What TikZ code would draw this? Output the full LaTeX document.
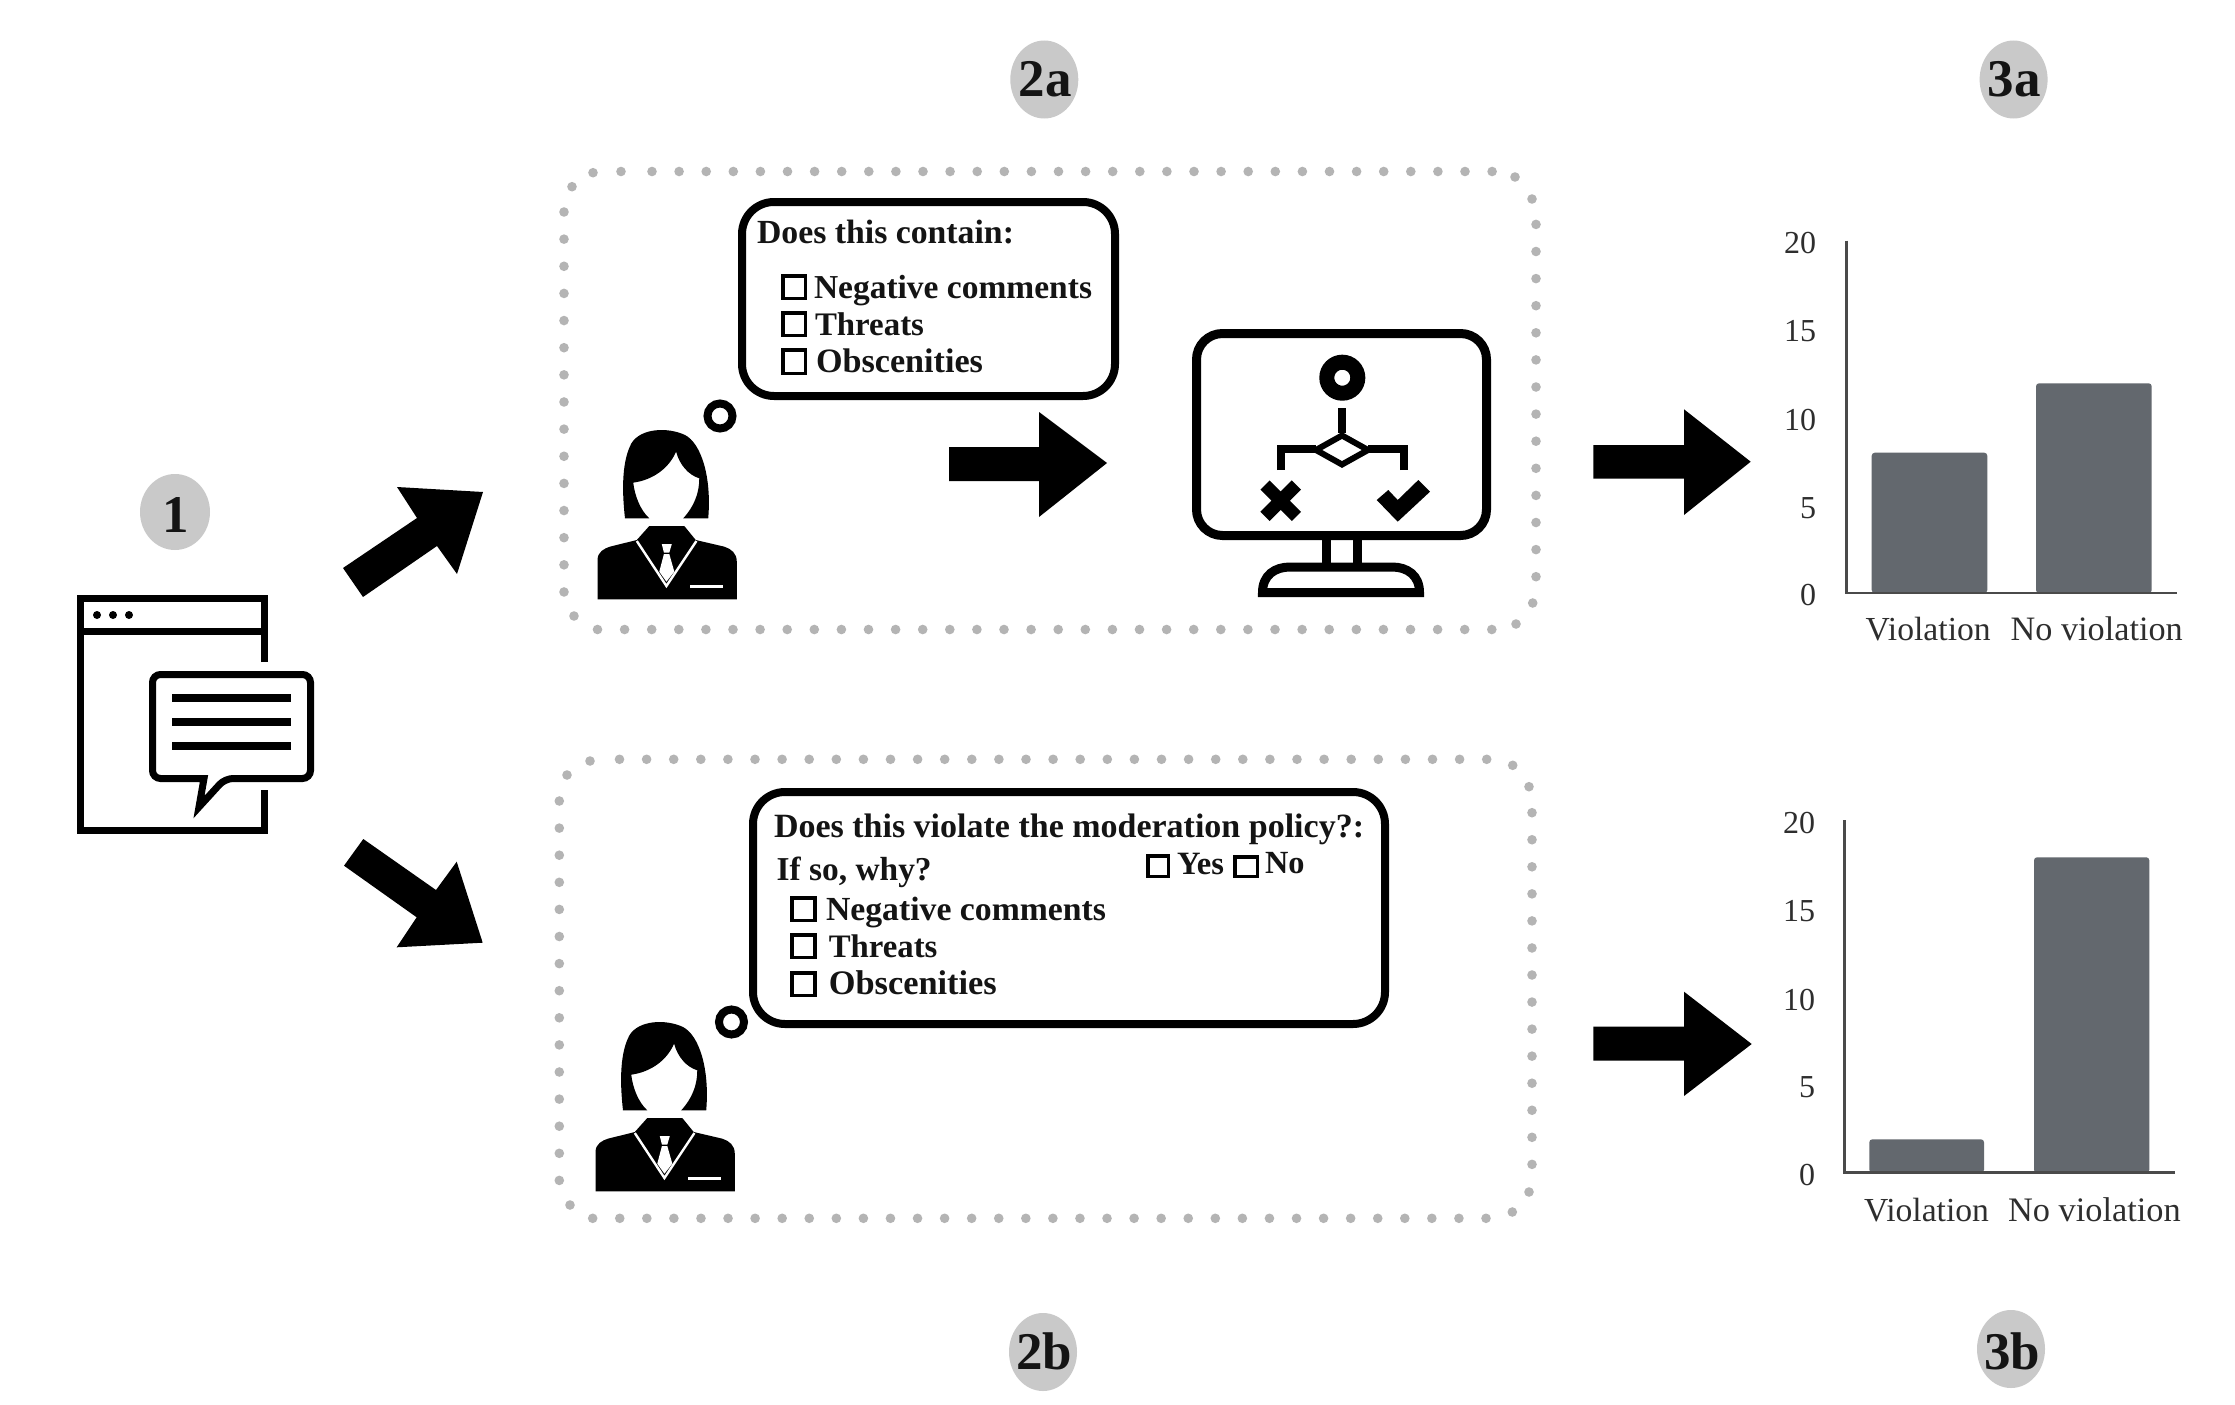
\documentclass[tikz,border=0pt]{standalone}
\usepackage{graphicx}
\usepackage{fontspec}
\setmainfont{Liberation Serif}
\definecolor{badgegray}{HTML}{C9C9C9}
\definecolor{dotgray}{HTML}{B4B4B4}
\definecolor{bargray}{HTML}{63686E}
\definecolor{axisgray}{HTML}{4A4A4A}
\definecolor{charttext}{HTML}{2E2E2E}
\tikzset{
  boldtxt/.style={inner sep=0pt,outer sep=0pt,anchor=base west,text=black!92,font=\fontsize{33}{36}\selectfont\bfseries},
  badgetxt/.style={inner sep=0pt,outer sep=0pt,anchor=base,text=black!92,font=\fontsize{53}{56}\selectfont\bfseries},
  ticktxt/.style={inner sep=0pt,outer sep=0pt,anchor=base east,text=charttext,font=\fontsize{32}{34}\selectfont},
  cattxt/.style={inner sep=0pt,outer sep=0pt,anchor=base west,text=charttext,font=\fontsize{33}{36}\selectfont},
  bubbleline/.style={draw=black,line width=8pt,rounded corners=32pt,fill=white},
  ringline/.style={draw=black,line width=8pt},
  chk/.style={draw=black,line width=3.5pt},
  bar/.style={fill=bargray,rounded corners=3pt},
  axisline/.style={draw=axisgray,line width=2.5pt},
  icon/.style={draw=black,line width=7pt,miter limit=10},
  dotmark/.style={fill=dotgray}
}
\newcommand{\boldtext}[5]{\node[boldtxt] (#1) at (#2,#3) {\resizebox{#4pt}{!}{#5}};}
\newcommand{\cattext}[5]{\node[cattxt] (#1) at (#2,#3) {\resizebox{#4pt}{!}{#5}};}
\newcommand{\chkbox}[4]{\draw[chk] (#1+1.75,#2+1.75) rectangle (#3-1.75,#4-1.75);}
\newcommand{\dotat}[2]{\fill[dotmark] (#1,#2) circle (4.8);}
\newcommand{\personicon}[2]{%
  \begin{scope}[shift={(#1,#2)},x=0.35714pt,y=-0.33333pt]
    \fill[black] (182,1075) .. controls (172,980) and (175,900) .. (200,850)
      .. controls (225,805) and (300,800) .. (350,825)
      .. controls (395,850) and (425,950) .. (415,1075) -- (345,1075)
      .. controls (375,1040) and (390,1000) .. (390,955)
      .. controls (360,945) and (335,915) .. (325,875)
      .. controls (305,925) and (260,960) .. (205,968)
      .. controls (210,1010) and (225,1050) .. (250,1075) -- cycle;
    \fill[black] (105,1318) -- (105,1200) .. controls (105,1175) and (125,1165) .. (140,1160)
      -- (215,1140) -- (250,1098) -- (348,1098) -- (380,1140) -- (460,1160)
      .. controls (480,1167) and (495,1180) .. (495,1205) -- (495,1318) -- cycle;
    \draw[white,line width=2.4pt] (215,1143) -- (298,1278) -- (382,1143);
    \fill[white] (285,1152) -- (313,1152) -- (306,1178) -- (291,1178) -- cycle;
    \fill[white] (291,1182) -- (306,1182) -- (320,1235) -- (298,1265) -- (278,1235) -- cycle;
    \draw[white,line width=2.4pt] (365,1280) -- (455,1280);
  \end{scope}}
\begin{document}
\begin{tikzpicture}[x=1pt,y=-1pt]
\useasboundingbox (0,0) rectangle (2235,1405);
\fill[white] (0,0) rectangle (2235,1405);

% badges
\fill[badgegray] (175,512) ellipse [x radius=35,y radius=38];
\node[badgetxt] (b1) at (176,532.7) {1};
\fill[badgegray] (1044.3,79.5) ellipse [x radius=34,y radius=39];
\node[badgetxt] (b2a) at (1045,96.7) {2a};
\fill[badgegray] (2013.6,79.5) ellipse [x radius=34,y radius=39];
\node[badgetxt] (b3a) at (2014,96.7) {3a};
\fill[badgegray] (1043,1352) ellipse [x radius=34,y radius=39];
\node[badgetxt] (b2b) at (1044,1369.3) {2b};
\fill[badgegray] (2011,1349) ellipse [x radius=34,y radius=39];
\node[badgetxt] (b3b) at (2012,1369.3) {3b};

% browser window icon
\draw[icon] (264.5,662) -- (264.5,598.5) -- (80.5,598.5) -- (80.5,830.5) -- (264.5,830.5) -- (264.5,790);
\draw[icon] (80.5,631) -- (264.5,631);
\fill[black] (97,615) circle (4) (113,615) circle (4) (129,615) circle (4);
\draw[icon,fill=white,rounded corners=8pt] (204,778.5) -- (152.5,778.5) -- (152.5,674.5) -- (310.5,674.5) -- (310.5,778.5) -- (225,778.5) [sharp corners] -- (199,807) -- cycle;
\draw[black,line width=8pt] (172,698) -- (291,698) (172,722) -- (291,722) (172,746) -- (291,746);

% diagonal arrows
\fill[black] (397,487) -- (483,492) -- (457,574) -- (437,546) -- (363,597) -- (343,568) -- (417,518) -- cycle;
\fill[black] (363.3,839) -- (436,890) -- (456.7,861.7) -- (482.7,942.7) -- (396.7,947.3) -- (416.7,917.3) -- (344,865.7) -- cycle;

% dotted box 2a
\foreach \k in {0,...,31} {\dotat{652+27.1*\k}{171.5}}
\dotat{621}{171.5}\dotat{593}{172.7}\dotat{572}{186.7}
\foreach \k in {0,...,14} {\dotat{564}{212+27.14*\k}}
\dotat{574}{616}
\foreach \k in {0,...,33} {\dotat{597.5+27.1*\k}{629.5}}
\foreach \k in {0,...,13} {\dotat{1536}{576.7-27.1*\k}}
\dotat{1532.7}{603}\dotat{1516}{624}\dotat{1532}{199}\dotat{1515}{177}

% dotted box 2b
\foreach \k in {0,...,32} {\dotat{1486.7-27.1*\k}{759.3}}
\dotat{590}{761}\dotat{567}{775}
\foreach \k in {0,...,14} {\dotat{559.3}{801+27.1*\k}}
\dotat{570}{1205}
\foreach \k in {0,...,33} {\dotat{1486-27.07*\k}{1218.3}}
\foreach \k in {0,...,13} {\dotat{1532}{812.7+27.05*\k}}
\dotat{1512.7}{765.3}\dotat{1529}{786.7}\dotat{1529}{1192}\dotat{1512.3}{1212}

% people
\personicon{560}{160}
\personicon{558}{752}
\draw[ringline] (720,416) circle (12.5);
\draw[ringline] (731.5,1022) circle (12.5);

% bubble 2a
\draw[bubbleline] (742,202) rectangle (1115,396);
\boldtext{q1}{757}{243}{257}{Does this contain:}
\chkbox{781}{274}{807}{300}
\chkbox{781}{311}{807}{337}
\chkbox{781}{348}{807}{375}
\boldtext{q1a}{814}{298}{278}{Negative comments}
\boldtext{q1b}{815}{335}{109}{Threats}
\boldtext{q1c}{816}{372}{167}{Obscenities}

% arrow inside 2a
\fill[black] (949,447) -- (1039,447) -- (1039,412) -- (1107,463) -- (1039,517) -- (1039,481) -- (949,481) -- cycle;

% monitor
\draw[black,line width=9pt,rounded corners=26pt] (1196.5,333.5) rectangle (1486.5,535.5);
\draw[black,line width=15pt] (1342.3,377.7) circle (15.5);
\draw[black,line width=8pt] (1342,408) -- (1342,433);
\draw[black,line width=6pt,miter limit=10] (1316,450) -- (1342,435.5) -- (1368,450) -- (1342,464.5) -- cycle;
\draw[black,line width=8pt] (1280.5,470) -- (1280.5,449) -- (1316,449);
\draw[black,line width=8pt] (1403.7,470) -- (1403.7,449) -- (1368,449);
\draw[black,line width=13pt] (1265,485) -- (1296.4,516.4) (1296.4,485) -- (1265,516.4);
\fill[black] (1376.7,500) -- (1397.7,521.7) -- (1430,491.7) -- (1418.3,480) -- (1397.7,500) -- (1388.3,490) -- cycle;
\draw[black,line width=9pt] (1326,540) -- (1326,563) (1357,540) -- (1357,563);
\draw[black,line width=9pt,miter limit=10] (1262.5,592.5) .. controls (1262.5,575) and (1275,567) .. (1290,567) -- (1392,567) .. controls (1407,567) and (1419.5,575) .. (1419.5,592.5) -- cycle;

% arrows to charts
\fill[black] (1593.3,445) -- (1684,445) -- (1684,409.3) -- (1750.7,461.7) -- (1684,515) -- (1684,478.7) -- (1593.3,478.7) -- cycle;
\fill[black] (1593.3,1026.7) -- (1684,1026.7) -- (1684,991.7) -- (1751.7,1044) -- (1684,1096) -- (1684,1060.7) -- (1593.3,1060.7) -- cycle;

% chart 3a
\fill[bar] (1871.7,593) rectangle (1987.3,452.7);
\fill[bar] (2036,593) rectangle (2151.7,383.3);
\draw[axisline] (1846.7,240.7) -- (1846.7,593) -- (2176.7,593);
\node[ticktxt] (a20) at (1816,253.3) {20};
\node[ticktxt] (a15) at (1816,341.7) {15};
\node[ticktxt] (a10) at (1816,430) {10};
\node[ticktxt] (a5) at (1816,518) {5};
\node[ticktxt] (a0) at (1816,605) {0};
\cattext{av}{1865.7}{640}{125}{Violation}
\cattext{an}{2010.7}{640}{172}{No violation}

% bubble 2b
\draw[bubbleline] (753,792) rectangle (1385,1024);
\boldtext{q2}{774}{837}{590}{Does this violate the moderation policy?:}
\boldtext{q2w}{776.7}{880}{155}{If so, why?}
\chkbox{1146}{854}{1170}{878}
\boldtext{q2y}{1177}{874}{47}{Yes}
\chkbox{1233}{855}{1259.4}{878}
\boldtext{q2n}{1265}{873}{39.5}{No}
\chkbox{790.4}{896}{816.7}{922}
\chkbox{790.4}{933}{816.7}{959}
\chkbox{790.4}{971}{816.7}{997}
\boldtext{q2a}{826}{920}{280}{Negative comments}
\boldtext{q2b}{828.8}{957}{108.6}{Threats}
\boldtext{q2c}{828.8}{994}{168}{Obscenities}

% chart 3b
\fill[bar] (1869.3,1172.7) rectangle (1984,1139.3);
\fill[bar] (2034,1172.7) rectangle (2149.3,857.3);
\draw[axisline] (1844.3,820) -- (1844.3,1172.7) -- (2175,1172.7);
\node[ticktxt] (c20) at (1815,833) {20};
\node[ticktxt] (c15) at (1815,921.7) {15};
\node[ticktxt] (c10) at (1815,1010) {10};
\node[ticktxt] (c5) at (1815,1097.3) {5};
\node[ticktxt] (c0) at (1815,1185.7) {0};
\cattext{cv}{1864}{1221.7}{125}{Violation}
\cattext{cn}{2008}{1221.7}{172.7}{No violation}
\end{tikzpicture}
\end{document}
